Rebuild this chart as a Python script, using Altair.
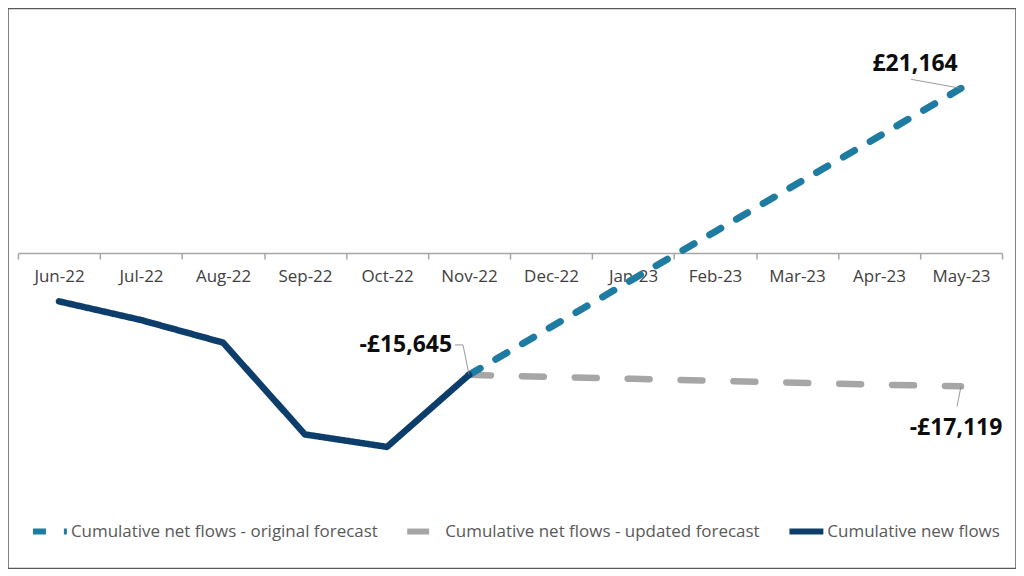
import altair as alt
import pandas as pd

months = ["Jun-22", "Jul-22", "Aug-22", "Sep-22", "Oct-22", "Nov-22",
          "Dec-22", "Jan-23", "Feb-23", "Mar-23", "Apr-23", "May-23"]

actual_months = months[:6]
actual_values = [-6200, -8600, -11500, -23300, -24900, -15645]

forecast_months = months[5:]
original_values = [-15645, -9500, -3350, 2750, 8900, 15000, 21164]
updated_values = [-15645, -15900, -16150, -16400, -16650, -16900, -17119]

series_names = ["Cumulative net flows - original forecast",
                "Cumulative net flows - updated forecast",
                "Cumulative new flows"]
colors = ["#1e7ba1", "#a6a6a6", "#0d3e6b"]
dashes = [[13, 18], [22, 31], [1, 0]]

rows = []
for m, v in zip(forecast_months, original_values):
    rows.append({"series": series_names[0], "month": m, "value": v})
for m, v in zip(forecast_months, updated_values):
    rows.append({"series": series_names[1], "month": m, "value": v})
for m, v in zip(actual_months, actual_values):
    rows.append({"series": series_names[2], "month": m, "value": v})
df = pd.DataFrame(rows)


def money(v):
    return ("-" if v < 0 else "") + "£" + f"{abs(v):,}"


labels = pd.DataFrame([
    {"month": forecast_months[-1], "value": original_values[-1], "label": money(original_values[-1])},
    {"month": actual_months[-1], "value": actual_values[-1], "label": money(actual_values[-1])},
    {"month": forecast_months[-1], "value": updated_values[-1], "label": money(updated_values[-1])},
])

FONT = "Open Sans"

xenc = alt.X("month:N", sort=months,
             scale=alt.Scale(type="band", domain=months, range=[10, 996],
                             paddingInner=0, paddingOuter=0),
             axis=alt.Axis(title=None, orient="bottom", offset=-316,
                           tickBand="extent", domainColor="#a6a6a6", domainWidth=1.5,
                           tickColor="#a6a6a6", tickWidth=1.5, tickSize=6,
                           labelPadding=9, labelFont=FONT, labelFontSize=17,
                           labelColor="#404040", labelAngle=0))
yenc = alt.Y("value:Q", scale=alt.Scale(domain=[-30000, 30000], range=[479, 11]), axis=None)

base = alt.Chart(df).encode(
    x=xenc, y=yenc,
    color=alt.Color("series:N", scale=alt.Scale(domain=series_names, range=colors),
                    legend=alt.Legend(title=None)),
    strokeDash=alt.StrokeDash("series:N", scale=alt.Scale(domain=series_names, range=dashes),
                              legend=alt.Legend(title=None)),
)

layers = []
for name, w in zip([series_names[1], series_names[0], series_names[2]], [6.5, 7, 6.5]):
    layers.append(base.transform_filter(alt.datum.series == name)
                  .mark_line(strokeWidth=w, strokeCap="round", strokeJoin="round"))

leader_style = dict(color="#7f7f7f", strokeWidth=0.8)
lead1 = alt.Chart(labels.iloc[[0]]).mark_rule(x2Offset=-50, y2Offset=-9, **leader_style).encode(
    x=alt.X("month:N", sort=months), x2="month:N", y="value:Q", y2="value:Q")
lead2a = alt.Chart(labels.iloc[[1]]).mark_rule(x2Offset=-6, y2Offset=-30, **leader_style).encode(
    x=alt.X("month:N", sort=months), x2="month:N", y="value:Q", y2="value:Q")
lead2b = alt.Chart(labels.iloc[[1]]).mark_rule(xOffset=-6, yOffset=-30, x2Offset=-14, y2Offset=-30,
                                               **leader_style).encode(
    x=alt.X("month:N", sort=months), x2="month:N", y="value:Q", y2="value:Q")
lead3 = alt.Chart(labels.iloc[[2]]).mark_rule(x2Offset=-4, y2Offset=20, **leader_style).encode(
    x=alt.X("month:N", sort=months), x2="month:N", y="value:Q", y2="value:Q")

txt_style = dict(font=FONT, fontSize=23, fontWeight="bold", color="#0d0d0d", baseline="middle")
t1 = alt.Chart(labels.iloc[[0]]).mark_text(align="center", dx=-46, dy=-24, **txt_style).encode(
    x=alt.X("month:N", sort=months), y="value:Q", text="label:N")
t2 = alt.Chart(labels.iloc[[1]]).mark_text(align="right", dx=-17, dy=-30, **txt_style).encode(
    x=alt.X("month:N", sort=months), y="value:Q", text="label:N")
t3 = alt.Chart(labels.iloc[[2]]).mark_text(align="center", dx=-5, dy=42, **txt_style).encode(
    x=alt.X("month:N", sort=months), y="value:Q", text="label:N")

chart = alt.layer(*layers, lead1, lead2a, lead2b, lead3, t1, t2, t3).properties(
    width=1010, height=561, padding=0,
    autosize=alt.AutoSizeParams(type="none"),
    background="white",
).configure_view(
    stroke="#595959", strokeWidth=1.5
).configure_legend(
    orient="none", legendX=22, legendY=504, direction="horizontal",
    symbolType="stroke", symbolSize=1156, symbolStrokeWidth=6,
    labelFont=FONT, labelFontSize=17, labelColor="#595959",
    labelOffset=1, columnPadding=17, labelLimit=500, padding=0,
)

chart.save("out.html", embed_options={"renderer": "svg", "actions": False})
